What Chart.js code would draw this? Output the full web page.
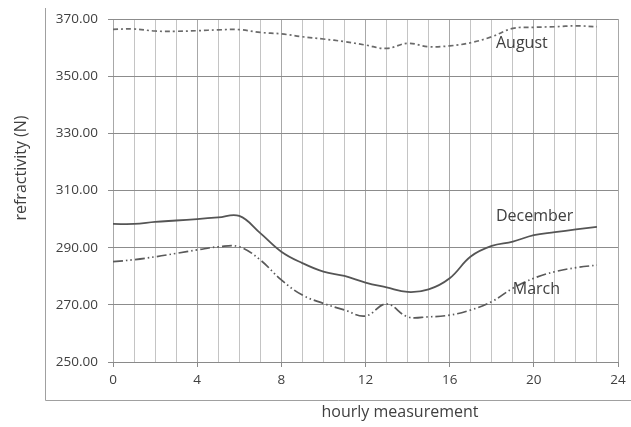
<!DOCTYPE html>
<html>
<head>
<meta charset="utf-8">
<script src="https://cdn.jsdelivr.net/npm/chart.js@4/dist/chart.umd.min.js"></script>
<style>
  html, body { margin: 0; padding: 0; background: #fff; }
  #wrap { width: 631px; height: 427px; }
</style>
</head>
<body>
<div id="wrap"><canvas id="refChart" width="631" height="427"></canvas></div>
<script>
// hours 0..23
const hours = [0, 1, 2, 3, 4, 5, 6, 7, 8, 9, 10, 11, 12, 13, 14, 15, 16, 17, 18, 19, 20, 21, 22, 23]

const august = [366.4, 366.5, 365.8, 365.7, 365.9, 366.2, 366.3, 365.3, 364.8, 363.8, 363.0, 362.1,
                360.9, 359.7, 361.5, 360.3, 360.6, 361.7, 363.8, 366.7, 367.1, 367.3, 367.6, 367.3]
const december = [298.3, 298.3, 299.0, 299.5, 300.0, 300.6, 301.1, 295.1, 288.6, 284.6, 281.6, 280.1,
                  277.8, 276.1, 274.5, 275.4, 279.3, 286.9, 290.6, 292.1, 294.4, 295.4, 296.4, 297.3]
const march = [285.1, 285.8, 286.8, 288.0, 289.2, 290.3, 290.3, 285.7, 278.7, 273.4, 270.5, 268.2,
               266.1, 270.3, 265.8, 265.8, 266.4, 268.2, 271.1, 275.8, 279.3, 281.6, 283.0, 283.9]

const xTicks = [0, 4, 8, 12, 16, 20, 24]
const yTicks = [250, 270, 290, 310, 330, 350, 370]

const seriesLabels = ['August', 'December', 'March']

const textColor = '#404040'
const fontFamily = "'Open Sans', 'DejaVu Sans', sans-serif"

function toPoints(values) {
    return values.map((v, i) => ({ x: hours[i], y: v }))
}

// Frame, axis titles and series labels
const decorPlugin = {
    id: 'decor',
    afterDraw(chart) {
        const ctx = chart.ctx
        const xs = chart.scales.x
        const ys = chart.scales.y
        ctx.save()

        // partial outer frame (left + bottom)
        ctx.strokeStyle = '#a0a0a0'
        ctx.lineWidth = 1
        ctx.beginPath()
        ctx.moveTo(45.5, 8)
        ctx.lineTo(45.5, 400.5)
        ctx.lineTo(631, 400.5)
        ctx.stroke()

        ctx.fillStyle = textColor
        ctx.font = '16px ' + fontFamily
        ctx.textAlign = 'center'
        ctx.textBaseline = 'middle'
        ctx.fillText('hourly measurement', 400, 412)

        ctx.save()
        ctx.translate(21, 168)
        ctx.rotate(-Math.PI / 2)
        ctx.fillText('refractivity (N)', 0, 0)
        ctx.restore()

        // series labels near their lines
        ctx.font = '16px ' + fontFamily
        ctx.textAlign = 'left'
        const labelPos = [[18.2, 361.3], [18.2, 301.0], [19.0, 275.3]]
        seriesLabels.forEach((name, i) => {
            ctx.fillText(name, xs.getPixelForValue(labelPos[i][0]), ys.getPixelForValue(labelPos[i][1]))
        })
        ctx.restore()
    }
}

new Chart(document.getElementById('refChart'), {
    type: 'line',
    data: {
        datasets: [
            {
                label: seriesLabels[0],
                data: toPoints(august),
                borderColor: '#6a6a6a',
                borderWidth: 1.7,
                borderDash: [5, 3, 2, 3],
                pointRadius: 0,
                tension: 0.4
            },
            {
                label: seriesLabels[1],
                data: toPoints(december),
                borderColor: '#555555',
                borderWidth: 1.8,
                pointRadius: 0,
                tension: 0.4
            },
            {
                label: seriesLabels[2],
                data: toPoints(march),
                borderColor: '#5a5a5a',
                borderWidth: 1.7,
                borderDash: [10, 3, 1.5, 3, 1.5, 3],
                pointRadius: 0,
                tension: 0.4
            }
        ]
    },
    options: {
        responsive: false,
        animation: false,
        layout: { padding: { top: 19, right: 13, left: 0, bottom: 0 } },
        plugins: {
            legend: { display: false },
            tooltip: { enabled: false }
        },
        scales: {
            x: {
                type: 'linear',
                min: 0,
                max: 24,
                afterFit: scale => { scale.height = 65 },
                afterBuildTicks: scale => {
                    scale.ticks = hours.concat([24]).map(v => ({ value: v }))
                },
                border: { display: true, color: '#8a8a8a', width: 1 },
                grid: {
                    color: c => (c.tick && c.tick.value % 4 === 0) ? '#a8a8a8' : '#c4c4c4',
                    lineWidth: 1,
                    tickLength: 5,
                    tickColor: c => (c.tick && c.tick.value % 4 === 0) ? '#8a8a8a' : 'rgba(0,0,0,0)'
                },
                ticks: {
                    autoSkip: false,
                    maxRotation: 0,
                    padding: 5,
                    color: textColor,
                    font: { family: fontFamily, size: 13.5 },
                    callback: v => xTicks.includes(v) ? String(v) : ''
                }
            },
            y: {
                min: 250,
                max: 370,
                afterFit: scale => { scale.width = 113 },
                afterBuildTicks: scale => {
                    scale.ticks = yTicks.map(v => ({ value: v }))
                },
                border: { display: false },
                grid: {
                    color: '#8c8c8c',
                    lineWidth: 1,
                    tickLength: 5,
                    tickColor: '#8c8c8c'
                },
                ticks: {
                    padding: 10,
                    color: textColor,
                    font: { family: fontFamily, size: 13.5 },
                    callback: v => Number(v).toFixed(2)
                }
            }
        }
    },
    plugins: [decorPlugin]
})
</script>
</body>
</html>
